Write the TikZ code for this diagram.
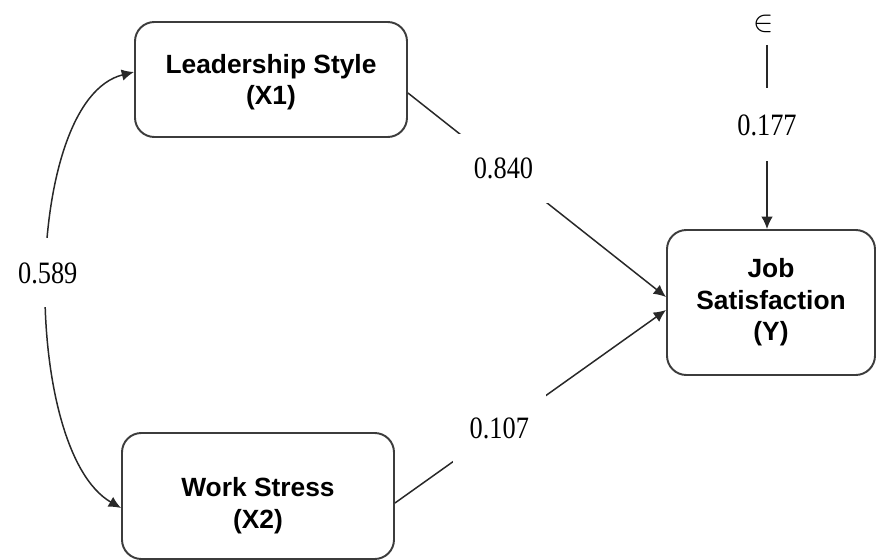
\documentclass[tikz,border=0pt]{standalone}
\usepackage{fontspec}
\setmainfont{Liberation Serif}
\newfontfamily\arialfont{Liberation Sans}
\definecolor{edgegray}{RGB}{60, 60, 60}
\definecolor{linegray}{RGB}{40, 40, 40}
\usepackage{tikz}
\usetikzlibrary{arrows.meta, positioning}
\usepackage{amsmath}
\newcommand{\tallnum}[1]{\scalebox{1}[1.18]{#1}}

\begin{document}
\begin{tikzpicture}[
  var/.style={draw=edgegray, line width=1.1pt, rounded corners=11pt, align=center, inner sep=0pt,
    font=\arialfont\bfseries\fontsize{15}{18}\selectfont},
  arr/.style={draw=linegray, line width=0.85pt, -{Latex[length=7pt, width=6.5pt]}},
  dblarr/.style={draw=linegray, line width=0.85pt, {Latex[length=7pt, width=6.5pt]}-{Latex[length=7pt, width=6.5pt]}},
  coef/.style={fill=white, font=\fontsize{15}{17}\selectfont, inner xsep=0.34cm, inner ysep=0.48cm}
]
  \useasboundingbox (0,0) rectangle (17.52,-11.2);

  % Variables
  \node[var, minimum width=5.44cm, minimum height=2.3cm] (lead) at (5.42, -1.59) {\rule{0pt}{14pt}Leadership Style\\(X1)};
  \node[var, minimum width=5.44cm, minimum height=2.52cm] (stress) at (5.16, -9.92) {\rule{0pt}{22pt}Work Stress\\(X2)};
  \node[var, minimum width=4.16cm, minimum height=2.9cm] (satis) at (15.42, -6.05) {Job\\Satisfaction\\(Y)};
  \node[font=\fontsize{19}{19}\selectfont, inner sep=1pt] (err) at (15.28, -0.47) {$\in$};

  % Paths
  \draw[arr] ([yshift=-0.27cm]lead.east) -- node[coef, pos=0.37] {\tallnum{0.840}} ([yshift=0.11cm]satis.west);
  \draw[arr] ([yshift=-0.14cm]stress.east) -- node[coef, pos=0.385] {\tallnum{0.107}} ([yshift=-0.15cm]satis.west);
  \draw[arr, shorten <=6pt] (err.south -| 15.34,0) -- node[coef, pos=0.465, inner ysep=0.52cm] {\tallnum{0.177}} (15.34,0 |- satis.north);

  % Correlation
  \draw[dblarr] ([yshift=0.15cm]lead.west) to[out=194, in=150, looseness=0.68] node[coef, pos=0.49] {\tallnum{0.589}} ([yshift=-0.24cm]stress.west);
\end{tikzpicture}
\end{document}
